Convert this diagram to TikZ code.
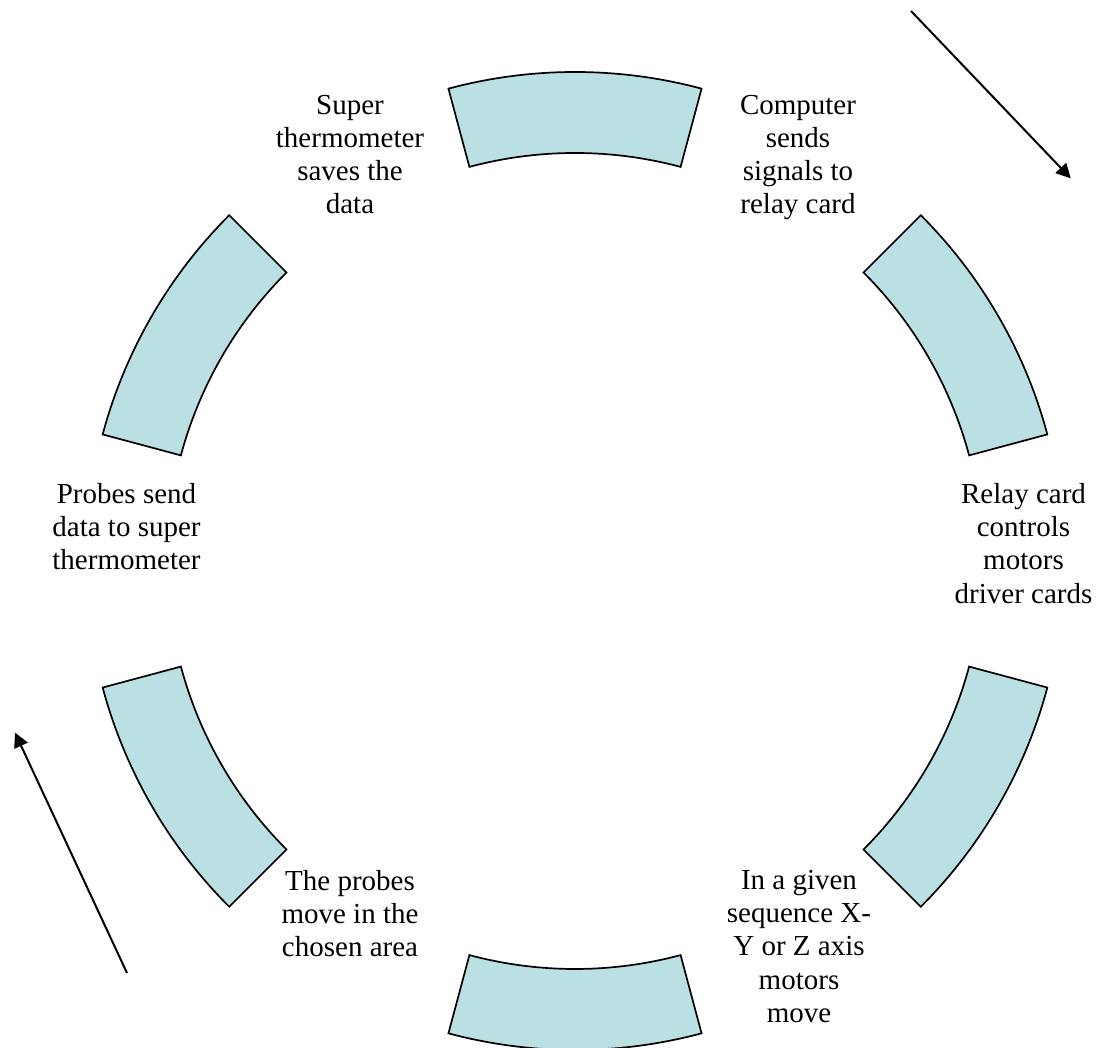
\documentclass[tikz,border=0pt]{standalone}
\usepackage{fontspec}
\setmainfont{Liberation Serif}
\usepackage{tikz}
\usetikzlibrary{arrows.meta,positioning}
\definecolor{arcfill}{RGB}{187,224,227}
\tikzset{
  blockarc/.style={draw=black,fill=arcfill,line width=.85pt,line join=miter},
  steplabel/.style={align=center,anchor=north,inner sep=0pt,
                    font=\fontsize{14.5}{16.6}\selectfont},
  flow/.style={-{Triangle[length=7.2pt,width=7.3pt]},draw=black,line width=1pt},
}

\begin{document}
\begin{tikzpicture}[x=0.5pt,y=0.5pt]
  \useasboundingbox (0,0) rectangle (1104,1048);
  % the six block arcs of the cycle
  \begin{scope}[shift={(575,487)}]
    \foreach \a in {90,30,-30,-90,-150,150}{
      \pgfmathsetmacro{\s}{\a-15}
      \pgfmathsetmacro{\e}{\a+15}
      \draw[blockarc] (\s:489) arc[start angle=\s,end angle=\e,radius=489]
        -- (\e:408) arc[start angle=\e,end angle=\s,radius=408] -- cycle;
    }
  \end{scope}
  \node[steplabel] (save) at (350,953.5) {Super\\thermometer\\saves the\\data};
  \node[steplabel] (signals) at (798,953.5) {Computer\\sends\\signals to\\relay card};
  \node[steplabel] (relay) at (1023.5,565) {Relay card\\controls\\motors\\driver cards};
  \node[steplabel] (motors) at (799,178) {In a given\\sequence X-\\Y or Z axis\\motors\\move};
  \node[steplabel] (probes) at (350,178) {The probes\\move in the\\chosen area};
  \node[steplabel] (data) at (126.5,565) {Probes send\\data to super\\thermometer};
  % in and out arrows
  \coordinate (inA) at (911,1037);
  \coordinate (inB) at (1070.7,869.7);
  \draw[flow] (inA) -- (inB);
  \coordinate (outA) at (127,75);
  \coordinate (outB) at (15,315.3);
  \draw[flow] (outA) -- (outB);
\end{tikzpicture}
\end{document}
